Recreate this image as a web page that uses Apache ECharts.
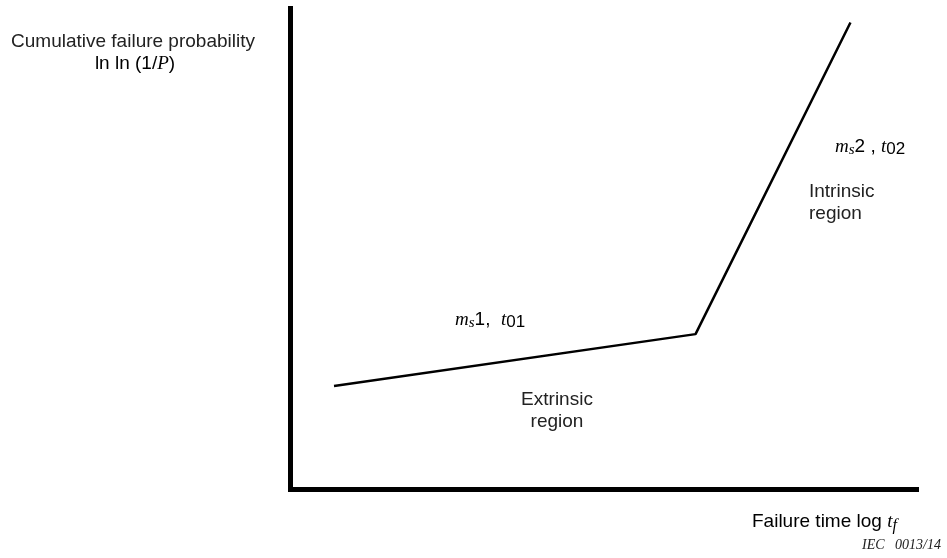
<!DOCTYPE html>
<html>
<head>
<meta charset="utf-8">
<script src="https://cdn.jsdelivr.net/npm/echarts@6/dist/echarts.min.js"></script>
<style>html,body{margin:0;padding:0;background:#fff}#c{width:947px;height:558px}</style>
</head>
<body>
<div id="c"></div>
<script>
const logTime = [6.95, 64.7, 89.45];
const lnLnP = [21.5, 32.3, 97.1];

const sans = 'Liberation Sans, Arial, sans-serif';
const serif = 'Liberation Serif, Times New Roman, serif';
const chart = echarts.init(document.getElementById('c'));
const pts = logTime.map((x, i) => [x, lnLnP[i]]);
const axisCommon = {
  type: 'value', min: 0, max: 100,
  axisLine: { show: true, lineStyle: { color: '#000', width: 5, cap: 'square' } },
  axisTick: { show: false }, axisLabel: { show: false }, splitLine: { show: false }
};
const txt = (x, y, text, extra) => Object.assign({
  type: 'text', x: x, y: y,
  style: Object.assign({ text: text, font: '19px ' + sans, fill: '#222', align: 'left', verticalAlign: 'middle' }, extra || {})
});
const richStyles = {
  i: { fontFamily: serif, fontStyle: 'italic', fontSize: 19, color: '#222' },
  is: { fontFamily: serif, fontStyle: 'italic', fontSize: 15, color: '#222', padding: [6, 0, 0, 0] },
  n: { fontFamily: sans, fontSize: 19, color: '#222' },
  ns: { fontFamily: sans, fontSize: 17, color: '#222', padding: [4, 0, 0, 0] }
};
chart.setOption({
  animation: false,
  grid: { left: 290.5, right: 30.5, top: 8.5, bottom: 68.5 },
  xAxis: axisCommon,
  yAxis: axisCommon,
  series: [{
    type: 'line', data: pts, symbol: 'none',
    lineStyle: { color: '#000', width: 2.5 }
  }],
  graphic: [
    txt(133, 42, 'Cumulative failure probability', { align: 'center' }),
    { type: 'text', x: 135, y: 64, style: { text: '{n|ln ln (1/}{i|P}{n|)}', rich: richStyles, align: 'center', verticalAlign: 'middle' } },
    { type: 'text', x: 835, y: 147, style: { text: '{i|m}{is|s}{n|2 , }{i|t}{ns|02}', rich: richStyles, align: 'left', verticalAlign: 'middle' } },
    txt(809, 192, 'Intrinsic'),
    txt(809, 214, 'region'),
    { type: 'text', x: 455, y: 320, style: { text: '{i|m}{is|s}{n|1,  }{i|t}{ns|01}', rich: richStyles, align: 'left', verticalAlign: 'middle' } },
    txt(557, 400, 'Extrinsic', { align: 'center' }),
    txt(557, 422, 'region', { align: 'center' }),
    { type: 'text', x: 752, y: 522, style: { text: '{n|Failure time log }{i|t}{fs|f}', rich: Object.assign({ fs: { fontFamily: serif, fontStyle: 'italic', fontSize: 16, color: '#222', padding: [8, 0, 0, 0] } }, richStyles), align: 'left', verticalAlign: 'middle' } },
    txt(862, 545, 'IEC   0013/14', { font: 'italic 14px ' + serif })
  ]
});
</script>
</body>
</html>
